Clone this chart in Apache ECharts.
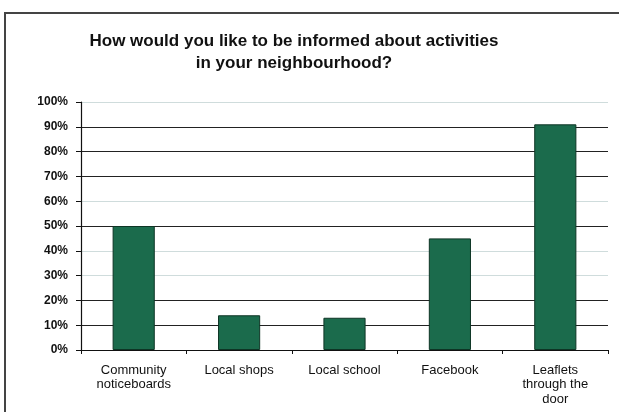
<!DOCTYPE html>
<html>
<head>
<meta charset="utf-8">
<script src="https://cdn.jsdelivr.net/npm/echarts@6/dist/echarts.min.js"></script>
<style>
  html, body { margin: 0; padding: 0; background: #fff; }
  #chart { width: 619px; height: 412px; }
</style>
</head>
<body>
<div id="chart"></div>
<script>
// Survey answers: preferred ways to hear about neighbourhood activities
const categories = [
  'Community\nnoticeboards',
  'Local shops',
  'Local school',
  'Facebook',
  'Leaflets\nthrough the\ndoor'
];
const percentages = [50, 14, 13, 45, 91];
const titleLines = [
  'How would you like to be informed about activities',
  'in your neighbourhood?'
];

// Gridline shades from 0% up to 100%
const gridShades = ['#222', '#222', '#222', '#cfdcdc', '#cfdcdc', '#222', '#cfdcdc', '#222', '#222', '#222', '#cfdcdc'];

const chart = echarts.init(document.getElementById('chart'), null, { renderer: 'canvas' });

chart.setOption({
  animation: false,
  backgroundColor: '#fff',
  title: {
    text: titleLines.join('\n'),
    left: 289,
    top: 25,
    textAlign: 'center',
    textStyle: {
      fontFamily: 'Liberation Sans, Arial, sans-serif',
      fontSize: 17,
      fontWeight: 'bold',
      color: '#111',
      lineHeight: 22,
      align: 'center'
    }
  },
  graphic: [{
    type: 'rect',
    shape: { x: 5, y: 13, width: 640, height: 430 },
    style: { fill: 'none', stroke: '#444', lineWidth: 2 },
    silent: true,
    z: 0
  }],
  grid: { left: 81, right: 11, top: 102, bottom: 62 },
  xAxis: {
    type: 'category',
    data: categories,
    axisLine: { lineStyle: { color: '#111', width: 1.2 } },
    axisTick: { show: true, length: 4, lineStyle: { color: '#111' } },
    axisLabel: {
      interval: 0,
      margin: 13,
      fontFamily: 'Liberation Sans, Arial, sans-serif',
      fontSize: 13,
      color: '#111',
      lineHeight: 14.5
    }
  },
  yAxis: {
    type: 'value',
    min: 0,
    max: 100,
    interval: 10,
    axisLine: { show: true, lineStyle: { color: '#111', width: 1.2 } },
    axisTick: { show: true, length: 5, lineStyle: { color: '#111' } },
    axisLabel: {
      formatter: '{value}%',
      margin: 13,
      fontFamily: 'Liberation Sans, Arial, sans-serif',
      fontSize: 12,
      fontWeight: 'bold',
      color: '#111'
    },
    splitLine: { show: true, lineStyle: { color: gridShades, width: 1.2 } }
  },
  series: [{
    type: 'bar',
    data: percentages,
    barWidth: '40%',
    itemStyle: { color: '#1b6b4c', borderColor: '#0e3525', borderWidth: 1 }
  }]
});
</script>
</body>
</html>
